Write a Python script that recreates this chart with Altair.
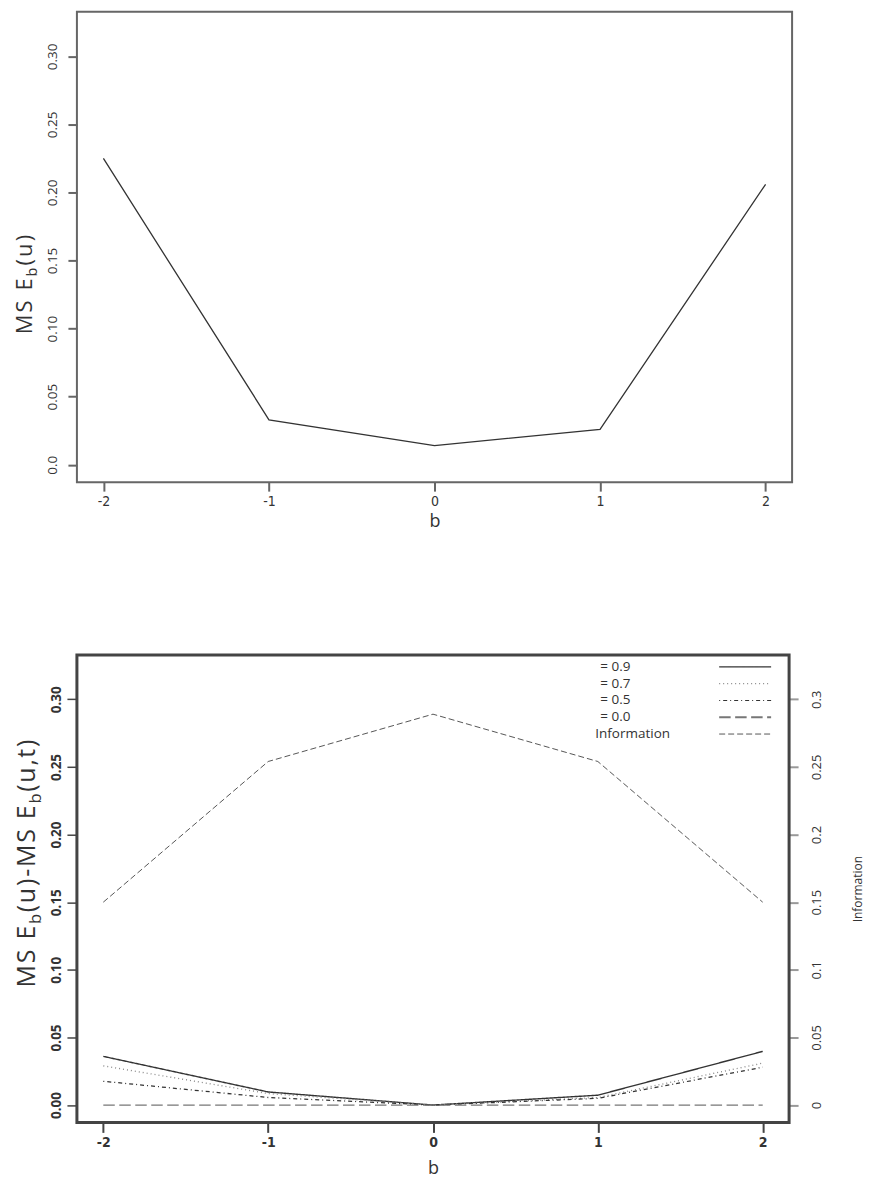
import altair as alt
import pandas as pd

# ---------------- data ----------------
b_values = [-2, -1, 0, 1, 2]
mse_u = [0.225, 0.033, 0.014, 0.026, 0.206]

series_names = ["rho09", "rho07", "rho05", "rho00"]
diff_rho_09 = [0.036, 0.0097, 0.0, 0.0073, 0.0397]
diff_rho_07 = [0.029, 0.0085, 0.0, 0.0056, 0.031]
diff_rho_05 = [0.0176, 0.0056, 0.0, 0.005, 0.028]
diff_rho_00 = [0.0, 0.0, 0.0, 0.0, 0.0]
information = [0.150, 0.254, 0.289, 0.254, 0.150]

legend_labels = ["= 0.9", "= 0.7", "= 0.5", "= 0.0", "Information"]
y_ticks = [0.0, 0.05, 0.10, 0.15, 0.20, 0.25, 0.30]
x_ticks = [-2, -1, 0, 1, 2]

# axis-title pieces: (text, is_subscript)
top_ylabel = [("MS E", False), ("b", True), ("(u)", False)]
bot_ylabel = [("MS E", False), ("b", True), ("(u)-MS E", False), ("b", True), ("(u,t)", False)]

X_DOMAIN = [-2.16, 2.16]
Y_DOMAIN = [-0.0128, 0.3328]

# ---------------- styles ----------------
FONT = "Open Sans"
NARROW = "Liberation Sans Narrow, DejaVu Sans Condensed, Roboto, sans-serif"
INK = "#333333"

series_colors = ["#333333", "#888888", "#333333", "#777777"]
series_widths = [1.4, 1.2, 1.1, 2.2]
series_dashes = [[1, 0], [1, 3], [1, 3, 4, 3], [11.5, 4.5]]

one = pd.DataFrame({"k": [0]})

xs = alt.Scale(domain=X_DOMAIN, nice=False, zero=False)
ys = alt.Scale(domain=Y_DOMAIN, nice=False, zero=False)

# approximate Open Sans advance widths (em)
ADV = {"M": 0.904, "S": 0.551, " ": 0.26, "E": 0.556, "(": 0.296, ")": 0.296,
       "u": 0.622, "-": 0.322, ",": 0.246, "t": 0.361, "b": 0.613}


def frame(w, h, color, sw):
    return alt.Chart(one).mark_rect(fill="white", fillOpacity=0, stroke=color, strokeWidth=sw).encode(
        x=alt.value(0), x2=alt.value(w), y=alt.value(0), y2=alt.value(h)
    )


def spacer():
    return alt.Chart(one).mark_rule(color="#ffffff", strokeWidth=1).encode(
        x=alt.value(-68), y=alt.value(0), y2=alt.value(1)
    )


def txt(s, x, y, size, weight="normal", angle=270, align="left", baseline="alphabetic", color=INK, font=FONT):
    return alt.Chart(one).mark_text(
        text=s, angle=angle, align=align, baseline=baseline, fontSize=size,
        fontWeight=weight, font=font, color=color
    ).encode(x=alt.value(x), y=alt.value(y))


def vertical_title(pieces, x_base, y_start, size, sub_size, sub_shift, tracking):
    layers = []
    y = y_start
    for text, sub in pieces:
        fs = sub_size if sub else size
        xb = x_base + (sub_shift if sub else 0)
        for ch in text:
            if ch != " ":
                layers.append(txt(ch, xb, y, fs))
            y -= ADV.get(ch, 0.55) * fs + tracking
    return layers


HYPHEN = "replace(format(datum.value, 'd'), '\u2212', '-')"

# ---------------- top panel ----------------
W1, H1 = 716, 471
top_df = pd.DataFrame({"b": b_values, "v": mse_u})

x_axis_top = alt.Axis(
    values=x_ticks, domain=False, grid=False, tickSize=9, tickColor="#666666", tickWidth=2,
    labelFont=NARROW, labelFontSize=14, labelColor=INK, labelPadding=3, labelExpr=HYPHEN,
    title="b", titleFont=FONT, titleFontSize=18, titleFontWeight="normal", titleColor=INK, titlePadding=4,
)
y_axis_top = alt.Axis(
    values=y_ticks, domain=False, grid=False, tickSize=9, tickColor="#666666", tickWidth=2,
    labelFont=FONT, labelFontSize=13.5, labelColor=INK, labelAngle=270, labelPadding=8,
    labelExpr="datum.value == 0 ? '0.0' : format(datum.value, '.2f')", title=None,
)

top_line = alt.Chart(top_df).mark_line(color=INK, strokeWidth=1.3).encode(
    x=alt.X("b:Q", scale=xs, axis=x_axis_top),
    y=alt.Y("v:Q", scale=ys, axis=y_axis_top),
)

top_title = vertical_title(top_ylabel, -44.5, 323, 22, 14.5, 5, 2.0)

top = alt.layer(spacer(), frame(W1, H1, "#666666", 2), top_line, *top_title).properties(width=W1, height=H1)

# ---------------- bottom panel ----------------
W2, H2 = 713, 468
rows = []
for name, vals in zip(series_names, [diff_rho_09, diff_rho_07, diff_rho_05, diff_rho_00]):
    for bb, vv in zip(b_values, vals):
        rows.append({"b": bb, "v": vv, "s": name})
bot_df = pd.DataFrame(rows)
info_df = pd.DataFrame({"b": b_values, "v": information})

x_axis_bot = alt.Axis(
    values=x_ticks, domain=False, grid=False, tickSize=10, tickColor="#444444", tickWidth=2,
    labelFont=NARROW, labelFontSize=14, labelFontWeight="bold", labelColor=INK, labelPadding=3,
    labelExpr=HYPHEN,
    title="b", titleFont=FONT, titleFontSize=18, titleFontWeight="normal", titleColor=INK, titlePadding=10,
)
y_axis_left = alt.Axis(
    orient="left", values=y_ticks, domain=False, grid=False, tickSize=10, tickColor="#444444", tickWidth=1.5,
    labelFont=FONT, labelFontSize=13.5, labelFontWeight="bold", labelColor=INK, labelAngle=270, labelPadding=3,
    labelExpr="format(datum.value, '.2f')", title=None,
)
y_axis_right = alt.Axis(
    orient="right", values=y_ticks, domain=False, grid=False, tickSize=9, tickColor="#999999", tickWidth=2,
    labelFont=FONT, labelFontSize=13, labelColor=INK, labelAngle=270, labelPadding=12,
    format="~g", title="Information", titleFont=FONT, titleFontSize=12, titleFontWeight="normal",
    titleColor=INK, titlePadding=29, titleAngle=270, titleBaseline="top",
)

series_layer = alt.Chart(bot_df).mark_line().encode(
    x=alt.X("b:Q", scale=xs, axis=x_axis_bot),
    y=alt.Y("v:Q", scale=ys, axis=y_axis_left),
    color=alt.Color("s:N", scale=alt.Scale(domain=series_names, range=series_colors), legend=None),
    strokeWidth=alt.StrokeWidth("s:N", scale=alt.Scale(domain=series_names, range=series_widths), legend=None),
    strokeDash=alt.StrokeDash("s:N", scale=alt.Scale(domain=series_names, range=series_dashes), legend=None),
)

info_layer = alt.Chart(info_df).mark_line(color="#444444", strokeWidth=0.9, strokeDash=[6, 3]).encode(
    x=alt.X("b:Q", scale=xs, axis=x_axis_bot),
    y=alt.Y("v:Q", scale=ys, axis=y_axis_right),
)

bot_title = vertical_title(bot_ylabel, -41.5, 333, 25, 16.5, 6, 1.7)

legend_layers = []
sample_colors = series_colors + ["#444444"]
sample_widths = series_widths + [0.9]
sample_dashes = series_dashes + [[6, 3]]
for i, lab in enumerate(legend_labels):
    yy = 12 + i * 16.8
    lx = 519 if lab == "Information" else 524
    legend_layers.append(txt(lab, lx, yy, 13.5, angle=0, baseline="middle"))
    legend_layers.append(
        alt.Chart(one).mark_rule(color=sample_colors[i], strokeWidth=sample_widths[i], strokeDash=sample_dashes[i]).encode(
            x=alt.value(643), x2=alt.value(695), y=alt.value(yy)
        )
    )

bottom = alt.layer(
    spacer(), frame(W2, H2, "#444444", 3), series_layer, info_layer, *bot_title, *legend_layers
).resolve_scale(y="independent").properties(width=W2, height=H2)

chart = alt.vconcat(top, bottom, spacing=122).properties(
    padding={"left": 0, "top": 1, "right": 1, "bottom": 0}
).configure_view(stroke="transparent")

chart.save("out.html", embed_options={"renderer": "svg", "actions": False})
